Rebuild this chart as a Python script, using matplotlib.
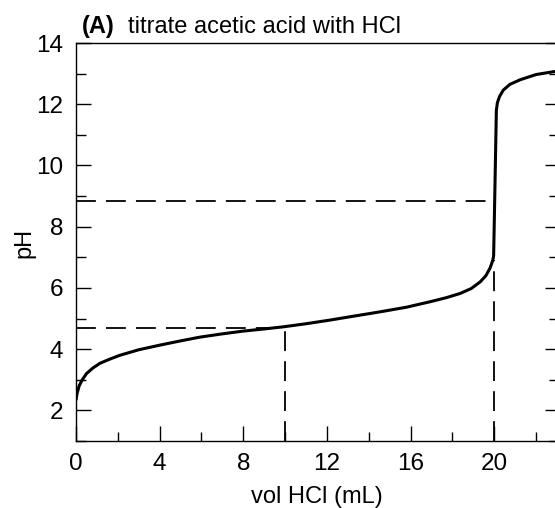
import numpy as np
import matplotlib
matplotlib.use('Agg')
import matplotlib.pyplot as plt
from matplotlib.ticker import MultipleLocator

plt.rcParams['font.family'] = ['Liberation Sans', 'DejaVu Sans']

# Titration curve
vol = [0.0, 0.05, 0.15, 0.3, 0.5, 0.8, 1.15, 1.6, 2.1, 3.0, 4.0, 5.0, 5.9, 7.0,
       8.0, 9.0, 9.92, 11.0, 12.15, 13.3, 14.55, 15.8, 16.94, 17.7, 18.37, 18.9,
       19.33, 19.6, 19.8, 19.93, 19.97, 20.03, 20.1, 20.15, 20.25, 20.43, 20.75,
       21.24, 22.0, 22.9, 23.0]
pH = [2.33, 2.55, 2.8, 3.0, 3.2, 3.38, 3.54, 3.67, 3.8, 3.98, 4.13, 4.27, 4.39, 4.5,
      4.59, 4.66, 4.73, 4.83, 4.95, 5.08, 5.22, 5.37, 5.55, 5.68, 5.82, 5.98,
      6.2, 6.4, 6.65, 6.9, 7.05, 9.2, 11.8, 12.05, 12.25, 12.46, 12.65,
       12.8, 12.97, 13.07, 13.08]

# dashed guide lines (half-equivalence and equivalence points)
half_eq_vol = 10.0
half_eq_pH = 4.7
eq_vol = 20.0
eq_pH = 8.85
eq_pH_curve = 6.9

xlim = (0, 23)
ylim = (1, 14)
x_major = [0, 4, 8, 12, 16, 20]
y_major = [2, 4, 6, 8, 10, 12, 14]

W, H = 555, 508
fig = plt.figure(figsize=(W / 100, H / 100), dpi=100)
# axes box in pixels: left 76, right ~557 (just past the edge), top 43, bottom 441
ax = fig.add_axes([76 / W, (H - 441) / H, (557 - 76) / W, (441 - 43) / H])

dash = dict(color='black', lw=1.3, dashes=(11, 5.6), zorder=2)
ax.plot([0, eq_vol], [eq_pH, eq_pH], **dash)
ax.plot([0, half_eq_vol], [half_eq_pH, half_eq_pH], **dash)
ax.plot([half_eq_vol, half_eq_vol], [ylim[0], half_eq_pH], **dash)
ax.plot([eq_vol, eq_vol], [ylim[0], eq_pH_curve], **dash)

ax.plot(vol, pH, color='black', lw=2.2, solid_capstyle='butt', zorder=3)

ax.set_xlim(*xlim)
ax.set_ylim(*ylim)
ax.set_xticks(x_major)
ax.set_yticks(y_major)
ax.xaxis.set_minor_locator(MultipleLocator(2))
ax.yaxis.set_minor_locator(MultipleLocator(1))

for s in ax.spines.values():
    s.set_linewidth(1.0)

ax.tick_params(axis='both', which='both', direction='in', width=1.0,
               labelsize=17.5, top=False, right=False)
ax.tick_params(axis='x', which='major', length=11, pad=8.5)
ax.tick_params(axis='x', which='minor', length=6.5)
ax.tick_params(axis='y', which='major', length=10.5, pad=9)
ax.tick_params(axis='y', which='minor', length=7.5)

# right side ticks are a bit shorter
ax2 = ax.twinx()
ax2.set_ylim(*ylim)
ax2.set_yticks(y_major)
ax2.yaxis.set_minor_locator(MultipleLocator(1))
ax2.tick_params(axis='y', which='both', direction='in', width=1.0, labelright=False)
ax2.tick_params(axis='y', which='major', length=8.5)
ax2.tick_params(axis='y', which='minor', length=6)
for s in ax2.spines.values():
    s.set_visible(False)

# title and axis labels
fig.text(82 / W, 1 - 33 / H, '(A)', fontsize=17, fontweight='bold', va='baseline')
fig.text(128 / W, 1 - 33 / H, 'titrate acetic acid with HCl', fontsize=17, va='baseline')
fig.text(317 / W, 1 - 503 / H, 'vol HCl (mL)', fontsize=17, ha='center', va='baseline')
fig.text(24 / W, 1 - 243 / H, 'pH', fontsize=17, rotation=90, ha='center', va='center')

fig.savefig('out.png', dpi=100)
